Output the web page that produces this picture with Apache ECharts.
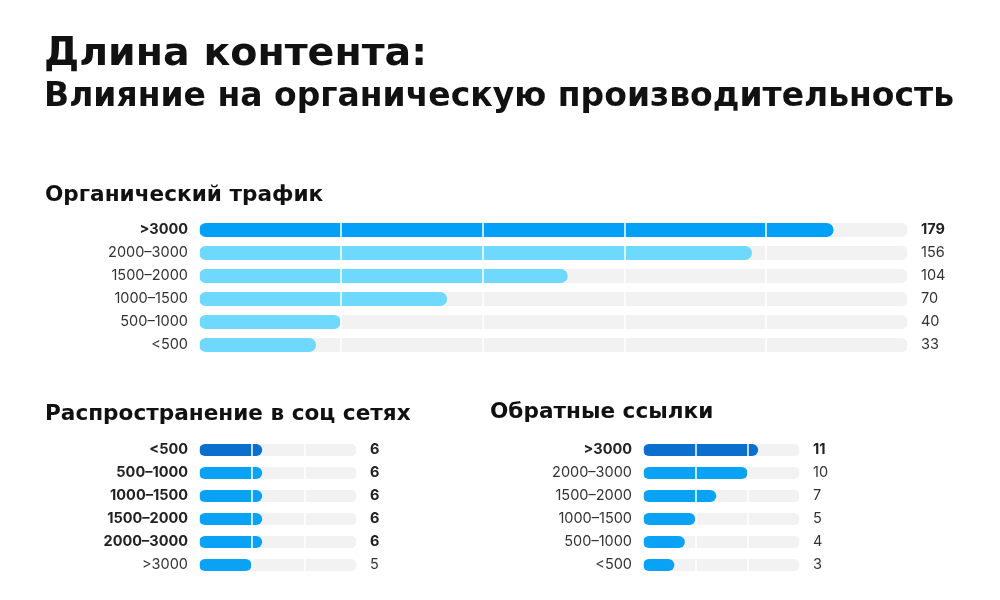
<!DOCTYPE html>
<html>
<head>
<meta charset="utf-8">
<script src="https://cdn.jsdelivr.net/npm/echarts@6/dist/echarts.min.js"></script>
<style>
  html, body { margin: 0; padding: 0; background: #fff; }
  #main { width: 1000px; height: 600px; }
</style>
</head>
<body>
<div id="main"></div>
<script>
// органический трафик
const trafficCats = ['>3000', '2000–3000', '1500–2000', '1000–1500', '500–1000', '<500'];
const trafficVals = [179, 156, 104, 70, 40, 33];
// соц сети
const socialCats = ['<500', '500–1000', '1000–1500', '1500–2000', '2000–3000', '>3000'];
const socialVals = [6, 6, 6, 6, 6, 5];
// обратные ссылки
const linksCats = ['>3000', '2000–3000', '1500–2000', '1000–1500', '500–1000', '<500'];
const linksVals = [11, 10, 7, 5, 4, 3];

const chart = echarts.init(document.getElementById('main'));

const labelFont = 'Inter, Roboto, sans-serif';
const titleFont = '"DejaVu Sans", "Open Sans", sans-serif';
const track = '#f2f2f2';

function catAxis(grid, cats, boldIdx) {
  return {
    type: 'category', gridIndex: grid, data: cats, inverse: true,
    axisLine: { show: false }, axisTick: { show: false },
    axisLabel: {
      margin: 11, fontSize: 14.5, color: '#333', fontFamily: labelFont,
      formatter: (v, i) => boldIdx.indexOf(i) > -1 ? '{b|' + v + '}' : v,
      rich: { b: { fontSize: 14.5, fontWeight: 'bold', color: '#222', fontFamily: labelFont } }
    }
  };
}
function valLabelAxis(grid, vals, boldIdx) {
  return {
    type: 'category', gridIndex: grid, position: 'right', inverse: true,
    data: vals.map(String),
    axisLine: { show: false }, axisTick: { show: false },
    axisLabel: {
      margin: 13, fontSize: 14.5, color: '#333', align: 'left', fontFamily: labelFont,
      formatter: (v, i) => boldIdx.indexOf(i) > -1 ? '{b|' + v + '}' : v,
      rich: { b: { fontSize: 14.5, fontWeight: 'bold', color: '#222', fontFamily: labelFont } }
    }
  };
}
function valAxis(grid, max, step) {
  return {
    type: 'value', gridIndex: grid, min: 0, max: max, interval: step, z: 10,
    axisLabel: { show: false }, axisLine: { show: false }, axisTick: { show: false },
    splitLine: { show: true, lineStyle: { color: '#ffffff', width: 1.5 } }
  };
}
function barSeries(grid, vals, colorFn, width) {
  return {
    type: 'bar', xAxisIndex: grid, yAxisIndex: grid * 2,
    data: vals.map((v, i) => ({ value: v, itemStyle: { color: colorFn(i) } })),
    barWidth: width,
    itemStyle: { borderRadius: width / 2 },
    showBackground: true,
    backgroundStyle: { color: track, borderRadius: width / 2 },
    silent: true
  };
}

const option = {
  animation: false,
  backgroundColor: '#ffffff',
  title: [
    { text: 'Длина контента:', left: 39, top: 30,
      textStyle: { fontFamily: titleFont, fontSize: 39.5, fontWeight: 'bold', color: '#111' } },
    { text: 'Влияние на органическую производительность', left: 39, top: 76,
      textStyle: { fontFamily: titleFont, fontSize: 33, fontWeight: 'bold', color: '#111' } },
    { text: 'Органический трафик', left: 40, top: 179,
      textStyle: { fontFamily: titleFont, fontSize: 21.6, fontWeight: 'bold', color: '#111' } },
    { text: 'Распространение в соц сетях', left: 40, top: 398,
      textStyle: { fontFamily: titleFont, fontSize: 21.6, fontWeight: 'bold', color: '#111' } },
    { text: 'Обратные ссылки', left: 485, top: 396,
      textStyle: { fontFamily: titleFont, fontSize: 21.6, fontWeight: 'bold', color: '#111' } }
  ],
  grid: [
    { left: 199, right: 92, top: 218.5, height: 138 },
    { left: 199, width: 158, top: 438.5, height: 138 },
    { left: 643, width: 157, top: 438.5, height: 138 }
  ],
  xAxis: [valAxis(0, 200, 40), valAxis(1, 15, 5), valAxis(2, 15, 5)],
  yAxis: [
    catAxis(0, trafficCats, [0]), valLabelAxis(0, trafficVals, [0]),
    catAxis(1, socialCats, [0, 1, 2, 3, 4]), valLabelAxis(1, socialVals, [0, 1, 2, 3, 4]),
    catAxis(2, linksCats, [0]), valLabelAxis(2, linksVals, [0])
  ],
  series: [
    barSeries(0, trafficVals, i => i === 0 ? '#03a0f6' : '#6fd8fd', 14),
    barSeries(1, socialVals, i => i === 0 ? '#0b6fcd' : '#0aa2f5', 12),
    barSeries(2, linksVals, i => i === 0 ? '#0b6fcd' : '#0aa2f5', 12)
  ]
};
chart.setOption(option);
</script>
</body>
</html>
